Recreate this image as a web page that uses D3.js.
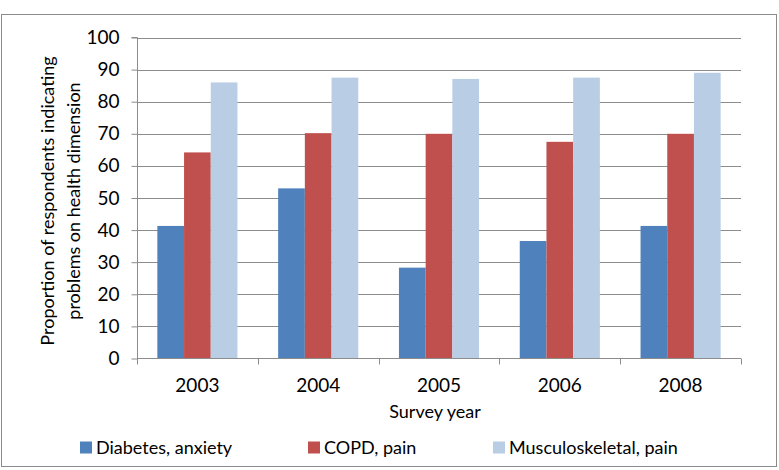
<!DOCTYPE html>
<html><head><meta charset="utf-8">
<script src="https://cdn.jsdelivr.net/npm/d3@7"></script>
<style>body{margin:0;background:#fff}svg{display:block}text{font-family:Lato,"Open Sans",sans-serif;fill:#000}</style>
</head><body><svg id="c" width="779" height="470"></svg>
<script>
const years = ["2003","2004","2005","2006","2008"];
const seriesNames = ["Diabetes, anxiety","COPD, pain","Musculoskeletal, pain"];
const diabetes = [41.3, 53.0, 28.3, 36.6, 41.3];
const copd = [64.2, 70.2, 70.0, 67.5, 70.0];
const musculo = [86.0, 87.5, 87.1, 87.5, 89.0];
const yTicks = [0,10,20,30,40,50,60,70,80,90,100];
const colors = ["#4F81BD","#C0504D","#B9CDE5"];
const values = [diabetes, copd, musculo];

const svg = d3.select("#c");
const L = 137, R = 741, T = 37.5, B = 358.5;
const grey = "#8c8c8c";

svg.append("rect").attr("x",1.5).attr("y",14.5).attr("width",775).attr("height",452)
  .attr("fill","#fff").attr("stroke","#8a8a8a").attr("stroke-width",1);

const y = d3.scaleLinear().domain([0,100]).range([B,T]);
const x0 = d3.scaleBand().domain(years).range([L,R]).paddingInner(0).paddingOuter(0);
const x1 = d3.scaleBand().domain(seriesNames).range([0,x0.bandwidth()]).paddingInner(0).paddingOuter(0.762);

// gridlines
svg.append("g").selectAll("line").data(yTicks.filter(d=>d>0)).join("line")
  .attr("x1",L).attr("x2",R).attr("y1",d=>Math.round(y(d))+0.5).attr("y2",d=>Math.round(y(d))+0.5)
  .attr("stroke",grey).attr("stroke-width",1);

// bars
const g = svg.append("g");
years.forEach((yr,i)=>{
  seriesNames.forEach((s,j)=>{
    g.append("rect").attr("x",x0(yr)+x1(s)).attr("width",x1.bandwidth())
      .attr("y",y(values[j][i])).attr("height",B-y(values[j][i])).attr("fill",colors[j]);
  });
});

// y axis
const ya = d3.axisLeft(y).tickValues(yTicks).tickSize(6).tickPadding(12);
const yg = svg.append("g").attr("transform",`translate(${L+0.5},0)`).call(ya);
yg.select(".domain").attr("stroke",grey).attr("d",`M-6,${y(100)}H0V${B}`);
yg.selectAll(".tick line").attr("stroke",grey);
yg.selectAll(".tick text").style("font-size","19px").attr("fill","#000");

// x axis
const boundaries = years.map(yr=>x0(yr)).concat([R]);
svg.append("line").attr("x1",L).attr("x2",R).attr("y1",B).attr("y2",B).attr("stroke",grey);
svg.append("g").selectAll("line").data(boundaries).join("line")
  .attr("x1",d=>Math.round(d)+0.5).attr("x2",d=>Math.round(d)+0.5).attr("y1",B).attr("y2",B+6).attr("stroke",grey);
svg.append("g").selectAll("text").data(years).join("text")
  .attr("x",d=>x0(d)+x0.bandwidth()/2).attr("y",392).attr("text-anchor","middle")
  .style("font-size","19px").text(d=>d);

// axis titles
svg.append("text").attr("x",435).attr("y",418).attr("text-anchor","middle").style("font-size","18px").text("Survey year");
const yt = svg.append("text").attr("transform","translate(0,201) rotate(-90)").attr("text-anchor","middle").style("font-size","18px");
yt.append("tspan").attr("x",0).attr("y",54).text("Proportion of respondents indicating");
yt.append("tspan").attr("x",0).attr("y",80).text("problems on health dimension");

// legend
const legX = [80, 308, 493];
const lg = svg.append("g");
seriesNames.forEach((s,j)=>{
  lg.append("rect").attr("x",legX[j]).attr("y",441.5).attr("width",12).attr("height",12).attr("fill",colors[j]);
  lg.append("text").attr("x",legX[j]+16).attr("y",454).style("font-size","18px").text(s);
});
</script></body></html>
